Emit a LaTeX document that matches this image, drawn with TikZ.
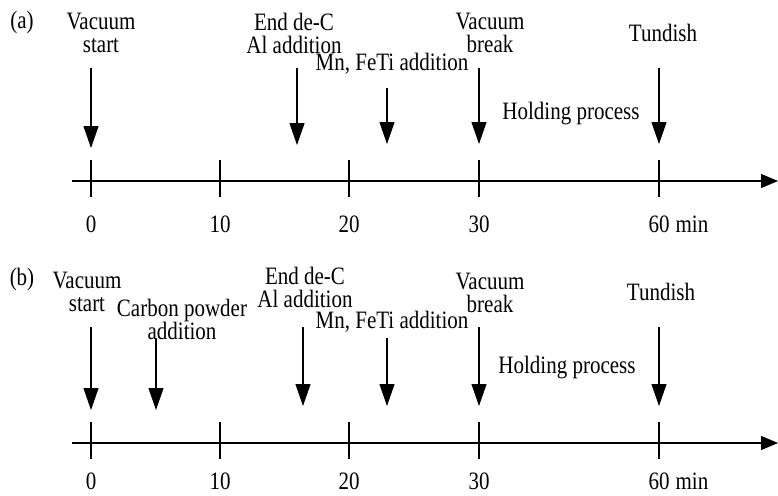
\documentclass[tikz,border=0pt]{standalone}
\usepackage{fontspec}
\setmainfont[FakeStretch=0.84]{Liberation Serif}
\usetikzlibrary{arrows.meta, positioning}

\begin{document}
\begin{tikzpicture}[x=1pt,y=-1pt,line width=1.1pt,
    lbl/.style={font=\fontsize{25}{23}\selectfont,align=center,inner sep=0pt},
    ticklbl/.style={font=\fontsize{25}{23}\selectfont,inner sep=0pt},
    evt/.style={-{Triangle[width=15pt,length=22pt]}},
    axis/.style={-{Triangle[width=14pt,length=17pt]}}]
    \useasboundingbox (0,0) rectangle (778,495);

    % (a)
    \node[lbl] (pa) at (22,22) {(a)};
    \node[lbl] (a-vs) at (101,33) {Vacuum\\start};
    \node[lbl] (a-dc) at (294,33) {End de-C\\Al addition};
    \node[lbl] (a-mn) at (392,64) {Mn, FeTi addition};
    \node[lbl] (a-vb) at (490,33) {Vacuum\\break};
    \node[lbl] (a-tu) at (663,33) {Tundish};
    \node[lbl] (a-hp) at (571,114) {Holding process};

    \coordinate (a-l) at (72,181);
    \coordinate (a-r) at (778,181);
    \draw[axis] (a-l) -- (a-r);
    \foreach \x/\t [count=\i] in {91/0,220/10,349/20,479/30,659/60} {
        \draw (\x,160) -- (\x,197);
        \node[ticklbl] (a-t\i) at (\x,224) {\t};
    }
    \node[ticklbl,anchor=base west] (a-min) at ([xshift=5pt]a-t5.base east) {min};

    \foreach \x/\s/\e [count=\i] in {91/68/148,297/68/145,387/88/144,479/68/144,659/68/144} {
        \coordinate (a-s\i) at (\x,\s);
        \coordinate (a-e\i) at (\x,\e);
        \draw[evt] (a-s\i) -- (a-e\i);
    }

    % (b)
    \node[lbl] (pb) at (22,279) {(b)};
    \node[lbl] (b-vs) at (87,292) {Vacuum\\start};
    \node[lbl] (b-cp) at (182,319) {Carbon powder\\addition};
    \node[lbl] (b-dc) at (305,287) {End de-C\\Al addition};
    \node[lbl] (b-mn) at (392,322) {Mn, FeTi addition};
    \node[lbl] (b-vb) at (490,293) {Vacuum\\break};
    \node[lbl] (b-tu) at (661,292) {Tundish};
    \node[lbl] (b-hp) at (567,368) {Holding process};

    \coordinate (b-l) at (72,443);
    \coordinate (b-r) at (778,443);
    \draw[axis] (b-l) -- (b-r);
    \foreach \x/\t [count=\i] in {91/0,220/10,349/20,479/30,659/60} {
        \draw (\x,422) -- (\x,459);
        \node[ticklbl] (b-t\i) at (\x,481) {\t};
    }
    \node[ticklbl,anchor=base west] (b-min) at ([xshift=5pt]b-t5.base east) {min};

    \foreach \x/\s/\e [count=\i] in {91/327/410,156/338/410,303/327/406,387/338/406,479/327/406,659/327/406} {
        \coordinate (b-s\i) at (\x,\s);
        \coordinate (b-e\i) at (\x,\e);
        \draw[evt] (b-s\i) -- (b-e\i);
    }
\end{tikzpicture}
\end{document}
